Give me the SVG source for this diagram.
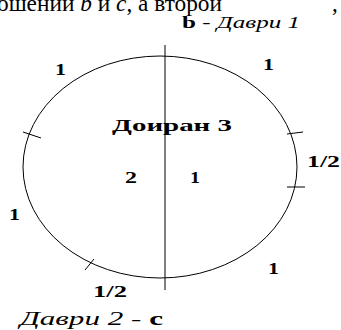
<svg xmlns="http://www.w3.org/2000/svg" width="341" height="330" viewBox="0 0 341 330">
<style>
.ln{stroke:#000;stroke-width:1;fill:none}
text{font-family:"Liberation Serif","Times New Roman","DejaVu Serif",serif;fill:#000}
.lab{font-weight:bold;font-size:16px}
.hd{font-size:23px}
</style>
<rect width="341" height="330" fill="#fff"/>
<text class="hd" x="-3" y="11" textLength="225" lengthAdjust="spacingAndGlyphs">ошений <tspan font-style="italic">b</tspan> и <tspan font-style="italic">c</tspan>, а второй</text>
<text class="hd" x="332" y="11">,</text>
<g id="shape">
<ellipse class="ln" cx="160" cy="167" rx="137" ry="111"/>
</g>
<g id="connectors">
<line class="ln" x1="165" y1="45" x2="165" y2="290"/>
<line class="ln" x1="23" y1="132" x2="41" y2="138"/>
<line class="ln" x1="287" y1="134" x2="303" y2="132"/>
<line class="ln" x1="287" y1="187" x2="305" y2="187"/>
<line class="ln" x1="85" y1="270" x2="94" y2="259"/>
</g>
<g id="top-label">
<text x="182" y="28" font-size="17" textLength="118" lengthAdjust="spacingAndGlyphs"><tspan font-weight="bold">b</tspan><tspan font-style="italic"> - Даври 1</tspan></text>
</g>
<g id="bottom-label">
<text x="20" y="325" font-size="18" textLength="143" lengthAdjust="spacingAndGlyphs"><tspan font-style="italic">Даври 2 - </tspan><tspan font-weight="bold">c</tspan></text>
</g>
<g id="center">
<text class="lab" x="112" y="131" font-size="22" textLength="120" lengthAdjust="spacingAndGlyphs">Доиран 3</text>
<text class="lab" x="125" y="183" textLength="12" lengthAdjust="spacingAndGlyphs">2</text>
<text class="lab" x="190" y="183" textLength="10" lengthAdjust="spacingAndGlyphs">1</text>
</g>
<g id="arc-labels">
<text class="lab" x="55" y="75" textLength="11" lengthAdjust="spacingAndGlyphs">1</text>
<text class="lab" x="263" y="70" textLength="11" lengthAdjust="spacingAndGlyphs">1</text>
<text class="lab" x="307" y="167" textLength="33" lengthAdjust="spacingAndGlyphs">1/2</text>
<text class="lab" x="9" y="220" textLength="11" lengthAdjust="spacingAndGlyphs">1</text>
<text class="lab" x="268" y="274" textLength="11" lengthAdjust="spacingAndGlyphs">1</text>
<text class="lab" x="93" y="297" textLength="34" lengthAdjust="spacingAndGlyphs">1/2</text>
</g>
</svg>
